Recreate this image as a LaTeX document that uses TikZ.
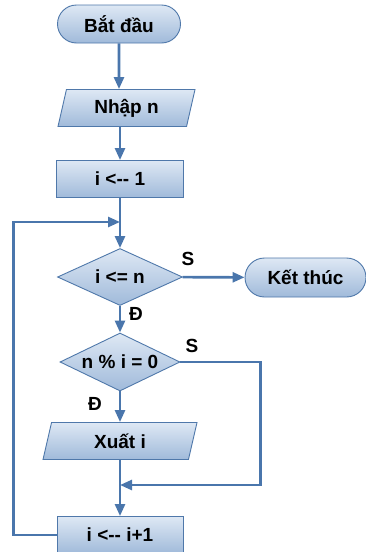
\documentclass[tikz,border=0pt]{standalone}
\usepackage{fontspec}
\setmainfont{Liberation Sans}
\usetikzlibrary{shapes.geometric,shapes.misc,arrows.meta}
\begin{document}
\begin{tikzpicture}[x=1pt,y=-1pt,
  font=\fontsize{19}{22}\selectfont\bfseries,
  flowbox/.style={draw=flow_border,line width=0.9pt,top color=flow_top,bottom color=flow_bottom,inner sep=0pt},
  pillbox/.style={flowbox,rounded rectangle,minimum width=123,minimum height=38},
  procbox/.style={flowbox,rectangle,minimum width=127,minimum height=37},
  iobox/.style={flowbox,trapezium,trapezium stretches body,minimum height=37},
  testbox/.style={flowbox,diamond,shape aspect=2.2},
  flowline/.style={line width=2.6pt,color=flow_line,-{Triangle[length=12pt,width=10pt]}},
  branch/.style={text=black}]
\definecolor{flow_border}{RGB}{79,120,170}
\definecolor{flow_top}{RGB}{222,232,244}
\definecolor{flow_bottom}{RGB}{160,186,218}
\definecolor{flow_line}{RGB}{74,118,172}
\useasboundingbox (0,0) rectangle (365,552);
\node[pillbox] (start) at (119,24) {Bắt đầu};
\node[iobox,trapezium left angle=65,trapezium right angle=115,minimum width=137] (inp) at (126.5,108) {Nhập n};
\node[procbox] (init) at (120,179) {i <-{}- 1};
\node[testbox,minimum width=125,minimum height=57] (cond) at (120,277) {i <= n};
\node[pillbox,minimum width=121,minimum height=39] (stop) at (305.5,277.5) {Kết thúc};
\node[testbox,minimum width=120,minimum height=58] (check) at (120,362) {n \% i = 0};
\node[iobox,trapezium left angle=60,trapezium right angle=120,minimum width=154] (out) at (120,441) {Xuất i};
\node[procbox,minimum width=126] (inc) at (120,535) {i <-{}- i+1};
\node[branch] (yes1) at (136,314) {Đ};
\node[branch] (no1) at (188,259) {S};
\node[branch] (yes2) at (95,404) {Đ};
\node[branch] (no2) at (192,346) {S};
\coordinate (loopin) at (120,222);
\coordinate (skipin) at (120,485);
\draw[flowline] (start) to (start |- inp.north);
\draw[flowline] (inp.south -| init) to (init);
\draw[flowline] (init) to (cond);
\draw[flowline] (cond) to (stop);
\draw[flowline] (cond) to (check);
\draw[flowline] (check) to (check |- out.north);
\draw[flowline] (out.south -| inc) to (inc);
\draw[flowline] (check.east) -- ++(80,0) |- (skipin);
\draw[flowline] (inc.west) -- ++(-43,0) |- (loopin);
\end{tikzpicture}
\end{document}
